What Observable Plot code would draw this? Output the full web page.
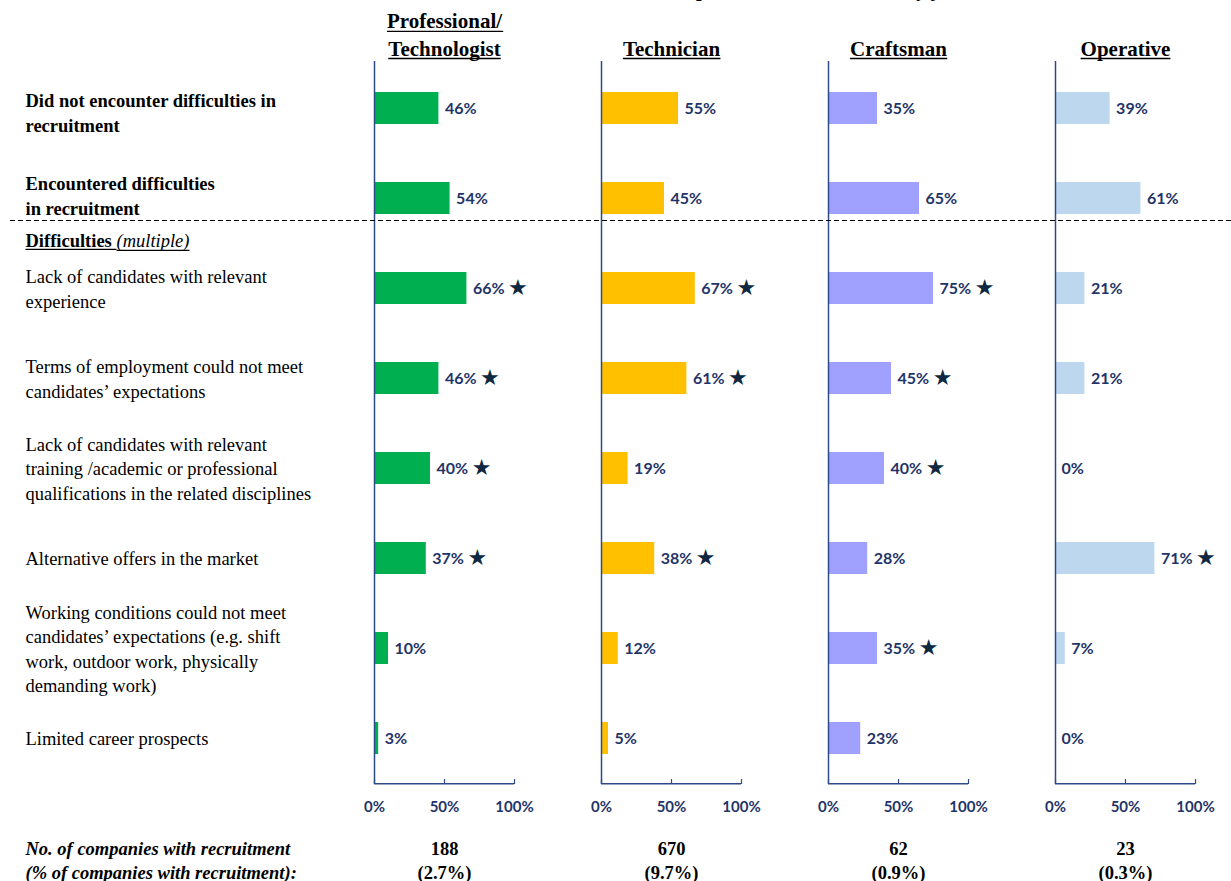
<!DOCTYPE html>
<html><head><meta charset="utf-8">
<script src="https://cdn.jsdelivr.net/npm/d3@7"></script>
<script src="https://cdn.jsdelivr.net/npm/@observablehq/plot@0.6"></script>
<style>
html,body{margin:0;padding:0;background:#fff;overflow:hidden}
#wrap{position:relative;width:1231px;height:881px}
#title{position:absolute;left:655px;top:-22px;font:bold 20px "Liberation Serif","Times New Roman",serif;white-space:nowrap;color:#000}
</style></head><body><div id="wrap"><div id="title">Companies with recruitment by job level</div></div>
<script>
const groups = ["Professional/\nTechnologist", "Technician", "Craftsman", "Operative"];
const rows = [
  "Did not encounter difficulties in\nrecruitment",
  "Encountered difficulties\nin recruitment",
  "Lack of candidates with relevant\nexperience",
  "Terms of employment could not meet\ncandidates’ expectations",
  "Lack of candidates with relevant\ntraining /academic or professional\nqualifications in the related disciplines",
  "Alternative offers in the market",
  "Working conditions could not meet\ncandidates’ expectations (e.g. shift\nwork, outdoor work, physically\ndemanding work)",
  "Limited career prospects"
];
const professional = [46, 54, 66, 46, 40, 37, 10, 3];
const technician   = [55, 45, 67, 61, 19, 38, 12, 5];
const craftsman    = [35, 65, 75, 45, 40, 28, 35, 23];
const operative    = [39, 61, 21, 21, 0, 71, 7, 0];
const starProfessional = [0, 0, 1, 1, 1, 1, 0, 0];
const starTechnician   = [0, 0, 1, 1, 0, 1, 0, 0];
const starCraftsman    = [0, 0, 1, 1, 1, 0, 1, 0];
const starOperative    = [0, 0, 0, 0, 0, 1, 0, 0];
const companies = [188, 670, 62, 23];
const companyShare = ["2.7%", "9.7%", "0.9%", "0.3%"];
const xTicks = [0, 0.5, 1];
const colors = ["#00B050", "#FFC000", "#A0A0FF", "#BDD7EE"];
const sectionHeading = ["Difficulties\u00a0", "(multiple)"];
const footerLabel = "No. of companies with recruitment\n(% of companies with recruitment):";

const values = [professional, technician, craftsman, operative];
const stars = [starProfessional, starTechnician, starCraftsman, starOperative];
const data = groups.flatMap((g, gi) => rows.map((r, ri) => ({group: g, row: r, value: values[gi][ri] / 100, star: stars[gi][ri]})));
const footer = groups.map((g, i) => ({group: g, text: `${companies[i]}\n(${companyShare[i]})`}));

const W = 1231, H = 881, mT = 61, mB = 97, mL = 374, mR = 36;
const step = (H - mT - mB) / rows.length;
const navy = "#1f3468", axisColor = "#2f4a8a";
const serif = "'Liberation Serif','Times New Roman',serif";
const sans = "Lato, 'Open Sans', sans-serif";
const first = () => groups[0];
const LFS = 18.5;

const chart = Plot.plot({
  width: W, height: H,
  marginLeft: mL, marginRight: mR, marginTop: mT, marginBottom: mB,
  style: {background: "white", overflow: "visible"},
  fx: {domain: groups, paddingInner: 87 / 227, paddingOuter: 0, axis: null, label: null},
  x: {domain: [0, 1], label: null},
  y: {domain: rows, paddingInner: 0.646, paddingOuter: 0.323, axis: null, label: null},
  color: {domain: groups, range: colors},
  marks: [
    Plot.barX(data, {fx: "group", y: "row", x: "value", fill: "group"}),
    Plot.ruleX([0], {stroke: axisColor, strokeWidth: 1.5}),
    Plot.ruleY([rows[rows.length - 1]], {x1: 0, x2: 1, dy: step / 2, stroke: axisColor, strokeWidth: 1.5}),
    Plot.axisX({ticks: xTicks, tickSize: 5, dy: -5, tickFormat: () => "", stroke: axisColor, strokeWidth: 1.2}),
    Plot.axisX({ticks: xTicks, tickSize: 0, tickPadding: 17, tickFormat: d3.format(".0%"), fill: navy, fontWeight: "bold", fontSize: 15, fontFamily: sans}),
    Plot.text(data, {fx: "group", y: "row", x: "value", text: d => Math.round(d.value * 100) + "%", textAnchor: "start", dx: 6, fill: navy, fontWeight: "bold", fontSize: 16, fontFamily: sans}),
    Plot.text(data.filter(d => d.star), {fx: "group", y: "row", x: "value", text: () => "★", dx: 51, dy: -1, fill: "#0d2840", fontSize: 22, fontFamily: "DejaVu Sans"}),
    // row labels
    Plot.text([rows[0]], {fx: first, y: d => d, x: 0, dx: -349, dy: 3, textAnchor: "start", lineHeight: 1.32, fontSize: LFS, fontWeight: "bold", fontFamily: serif, fill: "#000"}),
    Plot.text([rows[1]], {fx: first, y: d => d, x: 0, dx: -349, dy: -4, textAnchor: "start", lineHeight: 1.32, fontSize: LFS, fontWeight: "bold", fontFamily: serif, fill: "#000"}),
    Plot.text(rows.slice(2), {fx: first, y: d => d, x: 0, dx: -349, dy: -1, textAnchor: "start", lineHeight: 1.32, fontSize: LFS, fontFamily: serif, fill: "#000"}),
    // section heading
    Plot.text([sectionHeading[0]], {fx: first, y: () => rows[2], x: 0, dx: -349, dy: -47, textAnchor: "start", fontSize: LFS, fontWeight: "bold", fontFamily: serif, fill: "#000"}),
    Plot.text([sectionHeading[1]], {fx: first, y: () => rows[2], x: 0, dx: -258, dy: -47, textAnchor: "start", fontSize: LFS, fontStyle: "italic", fontFamily: serif, fill: "#000"}),
    // dashed separator
    Plot.ruleY([rows[1]], {fx: first, dy: 22, insetLeft: -364, insetRight: -(W - mL - 140), stroke: "#000", strokeDasharray: "5,3", strokeWidth: 1}),
    // column headers
    Plot.text(groups, {fx: d => d, x: 0.5, frameAnchor: "top", dy: -6, lineAnchor: "bottom", text: d => d, lineHeight: 1.29, fontSize: 21, fontWeight: "bold", fontFamily: serif, fill: "#000"}),
    // footer
    Plot.text([footerLabel], {fx: first, x: 0, frameAnchor: "bottom", dx: -349, dy: 94, textAnchor: "start", lineHeight: 1.25, fontSize: LFS, fontWeight: "bold", fontStyle: "italic", fontFamily: serif, fill: "#000"}),
    Plot.text(footer, {fx: "group", x: 0.5, frameAnchor: "bottom", dy: 94, text: "text", textAnchor: "middle", lineHeight: 1.25, fontSize: LFS, fontWeight: "bold", fontFamily: serif, fill: "#000"})
  ]
});
document.getElementById("wrap").prepend(chart);

// underline the column headers and the section heading
const ulStrings = new Set([...groups.flatMap(g => g.split("\n")), ...sectionHeading]);
const NS = "http://www.w3.org/2000/svg";
chart.querySelectorAll("text").forEach(t => {
  const spans = t.querySelectorAll("tspan");
  const parts = spans.length ? [...spans] : [t];
  parts.forEach(p => {
    if (!ulStrings.has(p.textContent)) return;
    const b = p.getBBox();
    const line = document.createElementNS(NS, "line");
    const yy = b.y + b.height - 2;
    line.setAttribute("x1", b.x);
    line.setAttribute("x2", b.x + b.width);
    line.setAttribute("y1", yy);
    line.setAttribute("y2", yy);
    line.setAttribute("stroke", "#000");
    line.setAttribute("stroke-width", "1.4");
    if (t.getAttribute("transform")) line.setAttribute("transform", t.getAttribute("transform"));
    t.parentNode.appendChild(line);
  });
});
</script></body></html>
